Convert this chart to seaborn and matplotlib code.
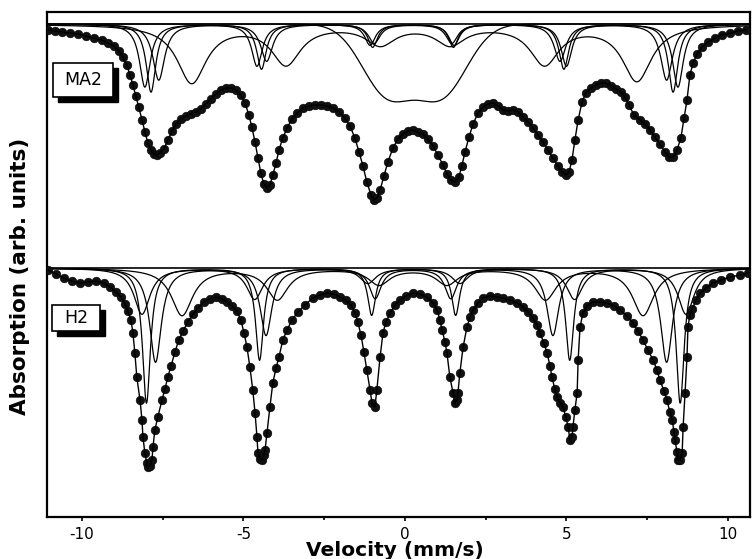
import numpy as np
import pandas as pd
import matplotlib
matplotlib.use('Agg')
import matplotlib.pyplot as plt
from matplotlib.patches import Rectangle
import seaborn as sns

# measured spectrum MA2 (velocity in mm/s, absorption in arb. units)
ma2_vel = [-11.05, -10.84, -10.62, -10.37, -10.12, -9.88, -9.63, -9.38, -9.2, -9.01,
           -8.85, -8.73, -8.61, -8.51, -8.42, -8.33, -8.24, -8.14, -8.05, -7.96,
           -7.86, -7.77, -7.68, -7.59, -7.46, -7.34, -7.21, -7.09, -6.93, -6.78,
           -6.63, -6.47, -6.32, -6.16, -6.01, -5.85, -5.7, -5.54, -5.39, -5.23,
           -5.08, -4.95, -4.83, -4.74, -4.64, -4.55, -4.46, -4.37, -4.27, -4.18,
           -4.09, -3.99, -3.9, -3.78, -3.65, -3.5, -3.34, -3.16, -2.97, -2.79,
           -2.6, -2.41, -2.23, -2.04, -1.86, -1.7, -1.55, -1.42, -1.3, -1.18,
           -1.05, -0.96, -0.87, -0.77, -0.65, -0.53, -0.37, -0.22, -0.06, 0.09,
           0.25, 0.4, 0.56, 0.71, 0.87, 1.02, 1.18, 1.3, 1.42, 1.55,
           1.67, 1.76, 1.86, 1.98, 2.11, 2.26, 2.41, 2.57, 2.72, 2.88,
           3.03, 3.19, 3.34, 3.5, 3.65, 3.81, 3.96, 4.12, 4.27, 4.43,
           4.58, 4.74, 4.86, 4.98, 5.08, 5.17, 5.26, 5.36, 5.48, 5.6,
           5.76, 5.91, 6.07, 6.22, 6.38, 6.53, 6.69, 6.81, 6.93, 7.09,
           7.28, 7.43, 7.59, 7.74, 7.89, 8.05, 8.17, 8.3, 8.42, 8.54,
           8.64, 8.73, 8.82, 8.92, 9.04, 9.2, 9.38, 9.6, 9.81, 10.06,
           10.31, 10.56]
ma2_abs = [487, 486, 485, 484, 483, 481, 479, 477, 474, 471,
           466, 460, 452, 442, 432, 421, 410, 397, 385, 374,
           367, 363, 362, 364, 368, 377, 386, 393, 398, 401,
           403, 405, 408, 413, 418, 423, 427, 429, 429, 427,
           422, 414, 402, 390, 375, 359, 344, 333, 329, 332,
           342, 354, 367, 379, 389, 398, 404, 409, 411, 412,
           412, 411, 409, 405, 399, 391, 379, 365, 351, 335,
           322, 317, 319, 327, 341, 355, 369, 378, 383, 386,
           387, 385, 383, 378, 371, 362, 352, 343, 337, 335,
           340, 351, 365, 380, 393, 404, 410, 413, 414, 411,
           407, 406, 407, 405, 400, 395, 389, 382, 375, 367,
           359, 351, 345, 342, 345, 357, 377, 397, 415, 424,
           429, 432, 434, 434, 431, 428, 425, 420, 412, 402,
           397, 393, 387, 380, 373, 365, 360, 360, 367, 379,
           399, 417, 442, 454, 463, 470, 475, 479, 482, 484,
           486, 487]

# measured spectrum H2
h2_vel = [-11.05, -10.8, -10.56, -10.31, -10.06, -9.81, -9.57, -9.32, -9.13, -8.95,
          -8.79, -8.67, -8.58, -8.48, -8.42, -8.36, -8.3, -8.2, -8.14, -8.11,
          -8.05, -7.99, -7.96, -7.89, -7.83, -7.8, -7.74, -7.65, -7.52, -7.43,
          -7.34, -7.24, -7.12, -7.0, -6.87, -6.72, -6.56, -6.41, -6.22, -6.04,
          -5.85, -5.67, -5.51, -5.36, -5.2, -5.08, -4.98, -4.89, -4.8, -4.71,
          -4.64, -4.58, -4.55, -4.49, -4.43, -4.37, -4.33, -4.27, -4.18, -4.09,
          -3.99, -3.9, -3.78, -3.65, -3.5, -3.31, -3.1, -2.85, -2.63, -2.41,
          -2.2, -2.01, -1.83, -1.67, -1.55, -1.46, -1.36, -1.27, -1.18, -1.08,
          -1.02, -0.93, -0.87, -0.77, -0.68, -0.59, -0.46, -0.31, -0.15, 0.03,
          0.25, 0.46, 0.68, 0.87, 1.0, 1.08, 1.15, 1.24, 1.3, 1.39,
          1.49, 1.55, 1.61, 1.64, 1.7, 1.8, 1.92, 2.01, 2.11, 2.26,
          2.41, 2.63, 2.85, 3.03, 3.25, 3.47, 3.65, 3.81, 3.96, 4.09,
          4.18, 4.3, 4.4, 4.49, 4.55, 4.64, 4.71, 4.8, 4.89, 4.98,
          5.05, 5.11, 5.17, 5.2, 5.26, 5.33, 5.36, 5.42, 5.51, 5.63,
          5.82, 6.04, 6.25, 6.47, 6.66, 6.87, 7.06, 7.21, 7.37, 7.52,
          7.68, 7.8, 7.89, 8.02, 8.11, 8.2, 8.27, 8.33, 8.36, 8.42,
          8.45, 8.51, 8.58, 8.61, 8.67, 8.73, 8.76, 8.82, 8.89, 9.01,
          9.13, 9.32, 9.54, 9.78, 10.06, 10.37, 10.62]
h2_abs = [247, 243, 239, 236, 234, 235, 236, 234, 230, 225,
          220, 213, 206, 197, 184, 164, 140, 117, 97, 80,
          64, 54, 50, 51, 57, 70, 87, 100, 117, 128,
          140, 151, 165, 177, 186, 195, 203, 209, 215, 218,
          220, 218, 215, 211, 206, 197, 184, 170, 150, 127,
          104, 80, 64, 58, 57, 62, 67, 84, 110, 134,
          149, 160, 177, 187, 197, 205, 212, 219, 222, 224,
          223, 220, 217, 212, 204, 195, 182, 165, 147, 127,
          114, 110, 127, 160, 184, 195, 204, 212, 217, 221,
          224, 223, 220, 214, 207, 197, 187, 175, 164, 140,
          124, 114, 117, 124, 144, 170, 190, 200, 207, 214,
          219, 221, 220, 219, 217, 214, 210, 205, 199, 192,
          184, 174, 164, 151, 140, 128, 120, 114, 110, 100,
          90, 77, 80, 90, 107, 124, 157, 190, 204, 211,
          215, 215, 214, 211, 207, 201, 194, 186, 177, 167,
          157, 147, 137, 126, 117, 105, 97, 85, 77, 65,
          57, 57, 64, 90, 124, 160, 190, 202, 208, 217,
          224, 229, 234, 237, 240, 242, 244]

# fitted sub-spectra: baseline, line positions (mm/s), line depths, half widths
ma2_base = 493
ma2_sextet_pos = [[-8.05, -4.58, -1.08, 1.52, 5.0, 8.45],
                  [-7.86, -4.44, -1.0, 1.5, 4.92, 8.3],
                  [-7.62, -4.28, -0.95, 1.45, 4.8, 8.1],
                  [-6.6, -3.68, -0.76, 1.4, 4.32, 7.18]]
ma2_sextet_depth = [[63, 42, 21, 21, 42, 63],
                    [68, 45, 23, 23, 45, 68],
                    [56, 37, 19, 19, 37, 56],
                    [58, 39, 19, 19, 39, 56]]
ma2_sextet_hwhm = [0.2, 0.18, 0.22, 0.55]
ma2_broad_pos = [-0.55, 1.15]
ma2_broad_depth = [69, 69]
ma2_broad_sigma = 0.78

h2_base = 249
h2_sextet_pos = [[-8.0, -4.5, -1.03, 1.57, 5.1, 8.52],
                 [-7.72, -4.3, -0.92, 1.42, 4.58, 8.1],
                 [-6.9, -3.95, -0.8, 1.3, 4.35, 7.37],
                 [-8.14, -4.65, -1.15, 1.7, 5.25, 8.7]]
h2_sextet_depth = [[135, 92, 47, 47, 92, 135],
                   [94, 67, 30, 30, 67, 94],
                   [47, 31, 16, 16, 31, 47],
                   [46, 31, 15, 15, 31, 46]]
h2_sextet_hwhm = [0.15, 0.22, 0.4, 0.3]

sns.set_style('white')
plt.rcParams['font.family'] = ['DejaVu Sans']
plt.rcParams['axes.unicode_minus'] = False
plt.rcParams['text.color'] = 'black'
plt.rcParams['xtick.color'] = 'black'

vgrid = np.linspace(-11.08, 10.68, 1500)


def lorentz_sub(base, pos, depth, hwhm):
    y = np.full_like(vgrid, float(base))
    for p, d in zip(pos, depth):
        y -= d / (1.0 + ((vgrid - p) / hwhm) ** 2)
    return y


def gauss_sub(base, pos, depth, sigma):
    y = np.full_like(vgrid, float(base))
    for p, d in zip(pos, depth):
        y -= d * np.exp(-0.5 * ((vgrid - p) / sigma) ** 2)
    return y


parts = []
for i, (p, d, w) in enumerate(zip(ma2_sextet_pos, ma2_sextet_depth, ma2_sextet_hwhm)):
    parts.append(pd.DataFrame({'v': vgrid, 'y': lorentz_sub(ma2_base, p, d, w), 'comp': 'ma2_s%d' % i}))
parts.append(pd.DataFrame({'v': vgrid, 'y': gauss_sub(ma2_base, ma2_broad_pos, ma2_broad_depth, ma2_broad_sigma),
                           'comp': 'ma2_broad'}))
for i, (p, d, w) in enumerate(zip(h2_sextet_pos, h2_sextet_depth, h2_sextet_hwhm)):
    parts.append(pd.DataFrame({'v': vgrid, 'y': lorentz_sub(h2_base, p, d, w), 'comp': 'h2_s%d' % i}))
comp_df = pd.concat(parts, ignore_index=True)

ma2_df = pd.DataFrame({'v': ma2_vel, 'y': ma2_abs})
h2_df = pd.DataFrame({'v': h2_vel, 'y': h2_abs})

fig = plt.figure(figsize=(7.53, 5.59), dpi=100)
ax = fig.add_axes([0.0624, 0.0751, 0.9336, 0.9034])

sns.lineplot(data=comp_df, x='v', y='y', units='comp', estimator=None, color='black',
             lw=0.9, ax=ax, legend=False)
ax.axhline(ma2_base, color='black', lw=1.2)
ax.axhline(h2_base, color='black', lw=1.2)

for df in (ma2_df, h2_df):
    sns.scatterplot(data=df, x='v', y='y', s=40, color='#111111', edgecolor='black',
                    linewidth=0.3, ax=ax, zorder=3, legend=False)
    sns.lineplot(data=df, x='v', y='y', sort=False, estimator=None, color='black',
                 lw=1.0, ax=ax, zorder=4)

ax.set_xlim(-11.08, 10.68)
ax.set_ylim(0, 505)
ax.set_yticks([])
ax.set_xticks([-10, -5, 0, 5, 10])
ax.set_xticklabels(['-10', '-5', '0', '5', '10'])
ax.set_xticks([-7.5, -2.5, 2.5, 7.5], minor=True)
ax.tick_params(axis='x', which='major', direction='out', length=3, width=1.2,
               pad=4, labelsize=11, bottom=True, colors='black')
ax.tick_params(axis='x', which='minor', direction='out', length=2.5, width=1.2, bottom=True)
ax.set_xlabel('')
ax.set_ylabel('')
for s in ax.spines.values():
    s.set_visible(True)
    s.set_linewidth(1.6)
    s.set_color('black')


# sample labels with drop shadow
def label_box(x0, y0, w, h, text):
    ax.add_patch(Rectangle((x0 + 5 / 703, y0 - 5 / 505), w, h, transform=ax.transAxes,
                           facecolor='black', edgecolor='black', zorder=5))
    ax.add_patch(Rectangle((x0, y0), w, h, transform=ax.transAxes, facecolor='white',
                           edgecolor='black', lw=1.2, zorder=6))
    ax.text(x0 + w / 2, y0 + h / 2, text, transform=ax.transAxes, ha='center',
            va='center', fontsize=12.5, color='black', zorder=7)


label_box(0.0085, 0.832, 0.0854, 0.067, 'MA2')
label_box(0.0071, 0.368, 0.0683, 0.052, 'H2')

fig.text(20 / 753, 1 - 276 / 559, 'Absorption (arb. units)', rotation=90, ha='center',
         va='center', fontsize=15.5, fontweight='bold', color='black')
fig.text(395 / 753, 1 - 556 / 559, 'Velocity (mm/s)', ha='center', va='baseline',
         fontsize=14.5, fontweight='bold', color='black')

fig.savefig('out.png', dpi=100)
